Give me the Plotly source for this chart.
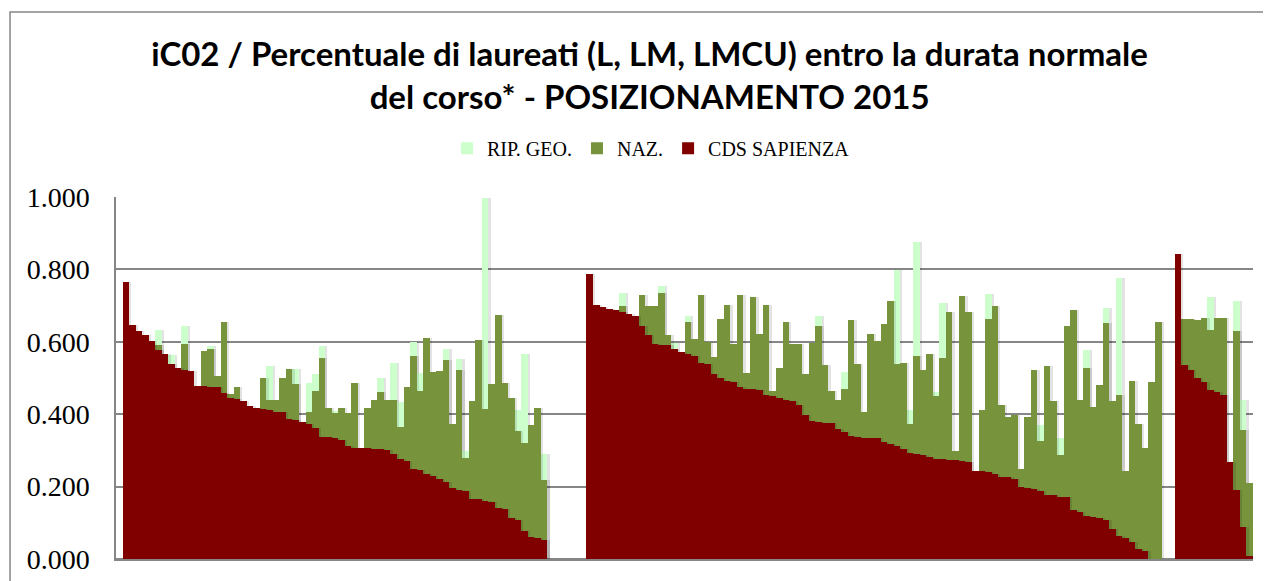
import plotly.graph_objects as go

# CdS in the three blocks (None = not visible / blank)
cds_1 = [0.764, 0.647, 0.630, 0.618, 0.601, 0.577, 0.566, 0.538, 0.527, 0.522,
         0.518, 0.478, 0.477, 0.476, 0.474, 0.459, 0.444, 0.441, 0.437, 0.422,
         0.417, 0.415, 0.411, 0.407, 0.405, 0.387, 0.383, 0.379, 0.374, 0.361,
         0.337, 0.336, 0.333, 0.329, 0.312, 0.308, 0.308, 0.306, 0.305, 0.303,
         0.300, 0.290, 0.276, 0.272, 0.250, 0.246, 0.234, 0.229, 0.222, 0.213,
         0.197, 0.191, 0.189, 0.166, 0.165, 0.159, 0.158, 0.142, 0.137, 0.113,
         0.107, 0.077, 0.060, 0.058, 0.052]
naz_1 = [None, None, None, None, None, 0.592, None, None, None, 0.594,
         None, None, 0.574, 0.579, 0.506, 0.655, 0.456, 0.476, None, None,
         None, 0.501, 0.438, 0.440, 0.501, 0.524, 0.484, None, 0.406, 0.464,
         0.555, 0.417, 0.403, 0.417, 0.403, 0.486, None, 0.417, 0.438, 0.462,
         0.438, 0.438, 0.364, 0.475, 0.562, 0.465, 0.611, 0.517, 0.520, 0.551,
         0.372, 0.523, 0.280, 0.437, 0.606, 0.414, 0.484, 0.674, 0.487, 0.444,
         0.353, 0.320, 0.369, 0.417, 0.219]
rip_1 = [None, None, None, None, None, 0.633, None, 0.563, None, 0.644,
         None, None, None, 0.589, None, None, None, None, None, None,
         None, None, 0.534, None, None, None, 0.524, None, 0.486, 0.512,
         0.589, None, 0.410, None, None, None, None, None, None, 0.500,
         None, 0.542, 0.434, None, 0.600, 0.514, None, None, None, 0.581,
         None, 0.553, 0.298, None, None, 0.998, None, None, None, None,
         0.412, 0.566, None, None, 0.289]

cds_2 = [0.788, 0.701, 0.697, 0.692, 0.688, 0.681, 0.677, 0.670, 0.643, 0.619,
         0.595, 0.592, 0.590, 0.581, 0.571, 0.566, 0.560, 0.541, 0.538, 0.510,
         0.500, 0.493, 0.488, 0.474, 0.471, 0.470, 0.466, 0.452, 0.449, 0.444,
         0.440, 0.436, 0.425, 0.399, 0.382, 0.379, 0.377, 0.377, 0.359, 0.350,
         0.340, 0.338, 0.335, 0.334, 0.334, 0.322, 0.317, 0.312, 0.304, 0.293,
         0.289, 0.286, 0.281, 0.276, 0.275, 0.273, 0.273, 0.272, 0.269, 0.244,
         0.243, 0.241, 0.234, 0.227, 0.226, 0.222, 0.200, 0.197, 0.194, 0.188,
         0.177, 0.176, 0.172, 0.171, 0.135, 0.129, 0.119, 0.116, 0.112, 0.109,
         0.082, 0.064, 0.057, 0.047, 0.029, 0.022, None, None]
naz_2 = [None, None, None, None, None, 0.700, None, None, 0.730, 0.700,
         0.700, 0.735, 0.619, None, None, 0.656, 0.608, 0.730, 0.600, 0.559,
         0.663, 0.701, 0.595, 0.729, 0.514, 0.725, 0.621, 0.701, 0.464, 0.529,
         0.656, 0.595, 0.595, 0.511, 0.597, 0.645, 0.535, 0.465, 0.440, 0.471,
         0.661, 0.539, 0.406, 0.622, 0.603, 0.649, 0.713, 0.538, 0.542, 0.372,
         0.561, 0.521, 0.566, 0.449, 0.555, 0.682, 0.297, 0.727, 0.682, None,
         0.411, 0.663, 0.700, 0.425, 0.391, 0.397, 0.250, 0.393, 0.521, 0.327,
         0.532, 0.437, 0.286, 0.643, 0.687, 0.440, 0.528, 0.421, 0.482, 0.651,
         0.437, 0.453, 0.243, 0.491, 0.373, 0.308, 0.488, 0.656]
rip_2 = [None, None, None, None, None, 0.735, None, None, None, None,
         None, 0.755, None, 0.597, None, 0.671, None, None, None, None,
         None, None, None, None, None, None, None, None, None, None,
         None, None, None, None, None, 0.671, None, None, None, 0.517,
         None, None, None, None, None, None, None, 0.798, None, 0.412,
         0.875, None, None, 0.461, 0.707, None, None, None, None, None,
         None, 0.732, None, None, None, None, None, None, None, 0.369,
         None, None, 0.333, None, None, None, 0.578, None, None, 0.694,
         None, 0.777, None, None, None, None, None, None]

cds_3 = [0.842, 0.536, 0.521, 0.500, 0.488, 0.467, 0.461, 0.453, 0.269, 0.190, 0.088, 0.009]
naz_3 = [None, 0.663, 0.662, 0.661, 0.665, 0.632, 0.666, 0.665, None, 0.630, 0.357, 0.209]
rip_3 = [None, None, None, None, None, 0.724, None, None, None, 0.714, 0.438, None]

# empty categories before / between the blocks
lead, gap_12, gap_23 = 1, 6, 2


def join(a, b, c):
    return [None] * lead + a + [None] * gap_12 + b + [None] * gap_23 + c


cds = join(cds_1, cds_2, cds_3)
naz = join(naz_1, naz_2, naz_3)
rip = join(rip_1, rip_2, rip_3)
x = list(range(len(cds)))

series = [('RIP. GEO.', rip, '#CCFFCC'), ('NAZ.', naz, '#77933C'), ('CDS SAPIENZA', cds, '#800000')]

fig = go.Figure()
for name, vals, col in series:
    # soft drop shadow like the Excel original
    fig.add_trace(go.Bar(x=x, y=vals, offset=-0.15, width=1, showlegend=False, hoverinfo='skip',
                         marker=dict(color='rgba(0,0,0,0.11)', line_width=0)))
    fig.add_trace(go.Bar(x=x, y=vals, name=name, marker=dict(color=col, line_width=0)))

fig.update_layout(
    width=1263, height=573, autosize=False,
    margin=dict(l=108, r=18, t=189, b=22, autoexpand=False),
    paper_bgcolor='white', plot_bgcolor='white',
    barmode='overlay', bargap=0,
    title=dict(text='iC02 / Percentuale di laureati (L, LM, LMCU) entro la durata normale<br>del corso* - POSIZIONAMENTO 2015',
               x=0.508, xanchor='center', y=0.899, yanchor='top',
               font=dict(family='Lato', size=33, color='black', weight='bold')),
    legend=dict(orientation='h', x=0.4705, xanchor='center',
                y=1.135, yanchor='middle', itemwidth=30,
                font=dict(family='Liberation Serif', size=20, color='black')),
    showlegend=True,
)
fig.update_yaxes(range=[0, 1], dtick=0.2, tickformat='.3f',
                 showgrid=True, gridcolor='#868686', gridwidth=1.5,
                 zeroline=True, zerolinecolor='#868686', zerolinewidth=1.5,
                 showline=True, linecolor='#868686', linewidth=1.5,
                 ticklabelstandoff=19,
                 tickfont=dict(family='Liberation Serif', size=28, color='black'))
fig.update_xaxes(range=[-0.5, len(cds) - 0.5], showticklabels=False, showgrid=False,
                 zeroline=False, showline=True, linecolor='#868686', linewidth=1.5)

# chart area border
fig.add_shape(type='rect', xref='paper', yref='paper', x0=-0.0932, x1=1.0114, y0=-0.2, y1=1.511,
              line=dict(color='#868686', width=1.5), fillcolor='rgba(0,0,0,0)', layer='below')

fig.write_html("out.html")
